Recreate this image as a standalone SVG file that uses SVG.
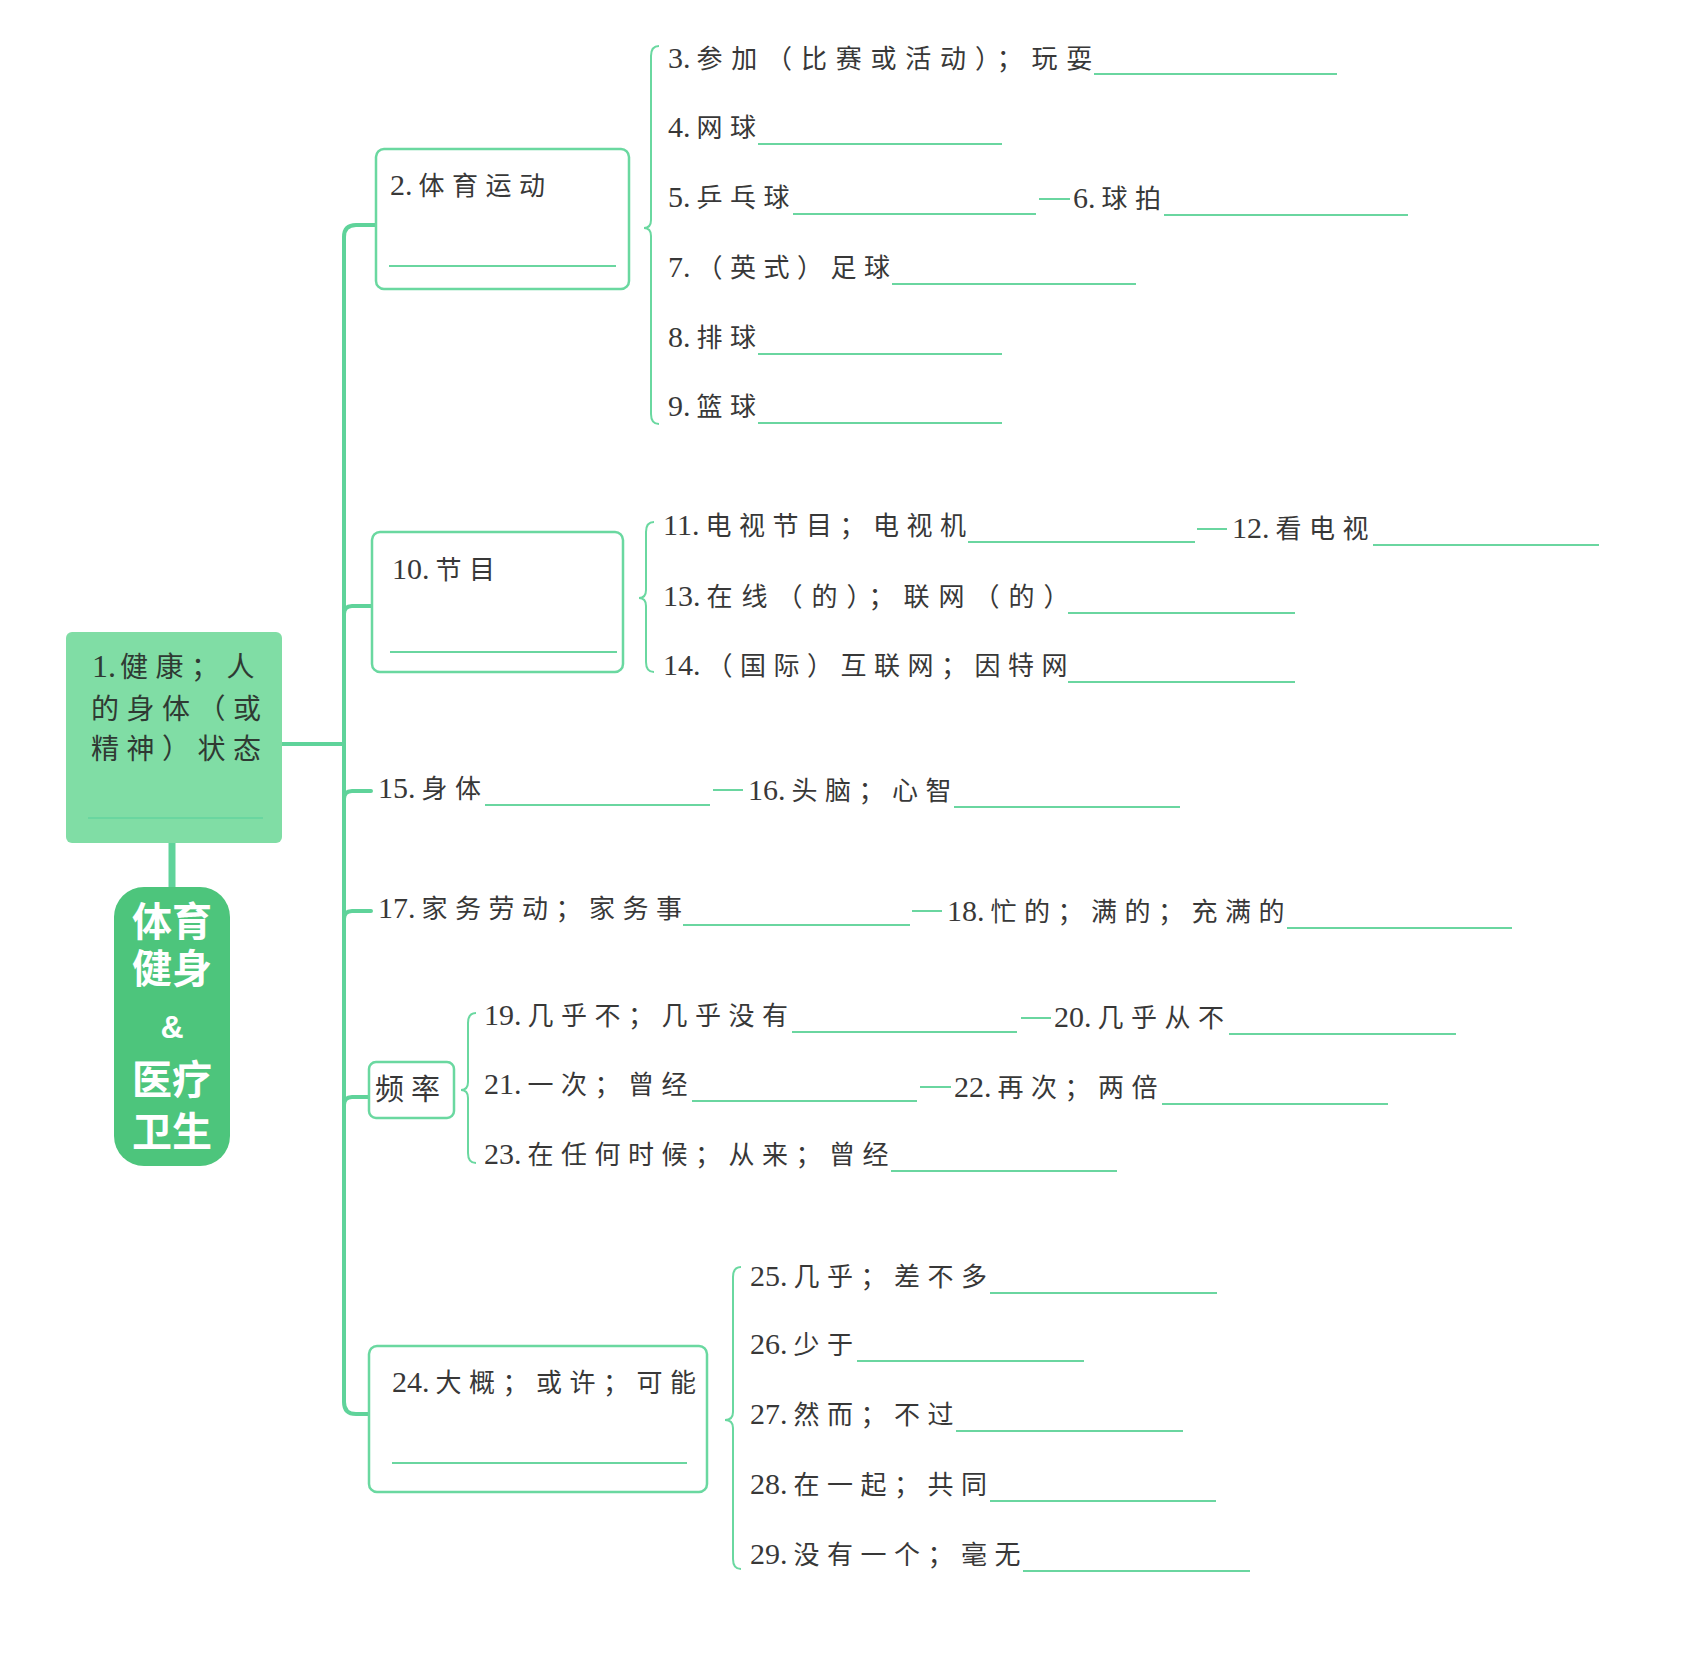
<svg xmlns="http://www.w3.org/2000/svg" width="1706" height="1677" viewBox="0 0 1706 1677">
<style>
.t{font-family:"Liberation Serif","Noto Sans CJK SC",serif;font-size:26px;fill:#383838}
.t .n{font-size:30px}
.t .c{letter-spacing:7.5px}
.t1{font-family:"Liberation Serif","Noto Sans CJK SC",serif;font-size:28px;fill:#2f3a33;letter-spacing:7.5px}
.t1 .n{font-size:32px;letter-spacing:0}
.ttl{font-family:"Liberation Sans","Noto Sans CJK SC",sans-serif;font-weight:bold;font-size:40px;fill:#fff;text-anchor:middle}
.ul{stroke:#6ad6a0;stroke-width:2;fill:none}
.ln{stroke:#5fd39a;stroke-width:4;fill:none;stroke-linecap:round}
.dash{stroke:#6ad6a0;stroke-width:2;fill:none}
.box{fill:#fff;stroke:#6ad8a0;stroke-width:2.5}
.br{fill:none;stroke:#6ad8a0;stroke-width:2}
</style>
<rect width="1706" height="1677" fill="#fff"/>

<g id="connectors">
  <path class="ln" d="M376,225 L356,225 Q344,225 344,237 L344,1402 Q344,1414 356,1414 L369,1414"/>
  <path class="ln" d="M344,614 Q344,606 352,606 L372,606"/>
  <path class="ln" d="M344,799 Q344,791 352,791 L371,791"/>
  <path class="ln" d="M344,919 Q344,911 352,911 L371,911"/>
  <path class="ln" d="M344,1105 Q344,1097 352,1097 L369,1097"/>
  <path class="ln" d="M282,744 L344,744"/>
  <path d="M172,843 L172,887" stroke="#5fd39a" stroke-width="7"/>
  <path class="br" d="M659,46 Q651,46 651,56 L651,220 Q651,228 644,228 Q651,228 651,236 L651,414 Q651,424 659,424"/>
  <path class="br" d="M654,522 Q646,522 646,532 L646,590 Q646,598 639,598 Q646,598 646,606 L646,662 Q646,672 654,672"/>
  <path class="br" d="M476,1013 Q468,1013 468,1023 L468,1082 Q468,1090 461,1090 Q468,1090 468,1098 L468,1153 Q468,1163 476,1163"/>
  <path class="br" d="M741,1267 Q733,1267 733,1277 L733,1412 Q733,1420 725,1420 Q733,1420 733,1428 L733,1559 Q733,1569 741,1569"/>
  <path class="dash" d="M1039,199 L1070,199"/>
  <path class="dash" d="M1197,529 L1227,529"/>
  <path class="dash" d="M713,790 L743,790"/>
  <path class="dash" d="M912,911 L942,911"/>
  <path class="dash" d="M1021,1018 L1051,1018"/>
  <path class="dash" d="M920,1087 L951,1087"/>
</g>

<g id="node1">
  <rect x="66" y="632" width="216" height="211" rx="6" fill="#80dda5"/>
  <text class="t1" x="92" y="677"><tspan class="n">1.</tspan><tspan dx="4">健康；人</tspan></text>
  <text class="t1" x="91" y="719">的身体（或</text>
  <text class="t1" x="91" y="759">精神）状态</text>
  <line class="ul" x1="88" y1="818" x2="263" y2="818" stroke="#5cc68d"/>
</g>

<g id="title">
  <rect x="114" y="887" width="116" height="279" rx="30" fill="#4dc57c"/>
  <text class="ttl" x="172" y="936">体育</text>
  <text class="ttl" x="172" y="983">健身</text>
  <text class="ttl" x="172" y="1038" style="font-size:32px">&amp;</text>
  <text class="ttl" x="172" y="1094">医疗</text>
  <text class="ttl" x="172" y="1146">卫生</text>
</g>

<g id="node2">
  <rect class="box" x="376" y="149" width="253" height="140" rx="8"/>
  <text class="t" x="390" y="195"><tspan class="n">2.</tspan><tspan class="c" dx="6">体育运动</tspan></text>
  <line class="ul" x1="389" y1="266" x2="616" y2="266"/>
</g>
<g id="n3"><text class="t" x="668" y="68"><tspan class="n">3.</tspan><tspan class="c" dx="6" style="letter-spacing:8.8px">参加（比赛或活动）；玩耍</tspan></text><line class="ul" x1="1094" y1="74" x2="1337" y2="74"/></g>
<g id="n4"><text class="t" x="668" y="137"><tspan class="n">4.</tspan><tspan class="c" dx="6">网球</tspan></text><line class="ul" x1="758" y1="144" x2="1002" y2="144"/></g>
<g id="n5"><text class="t" x="668" y="207"><tspan class="n">5.</tspan><tspan class="c" dx="6">乒乓球</tspan></text><line class="ul" x1="793" y1="214" x2="1036" y2="214"/></g>
<g id="n6"><text class="t" x="1073" y="208"><tspan class="n">6.</tspan><tspan class="c" dx="6">球拍</tspan></text><line class="ul" x1="1164" y1="215" x2="1408" y2="215"/></g>
<g id="n7"><text class="t" x="668" y="277"><tspan class="n">7.</tspan><tspan class="c" dx="6">（英式）足球</tspan></text><line class="ul" x1="892" y1="284" x2="1136" y2="284"/></g>
<g id="n8"><text class="t" x="668" y="347"><tspan class="n">8.</tspan><tspan class="c" dx="6">排球</tspan></text><line class="ul" x1="758" y1="354" x2="1002" y2="354"/></g>
<g id="n9"><text class="t" x="668" y="416"><tspan class="n">9.</tspan><tspan class="c" dx="6">篮球</tspan></text><line class="ul" x1="758" y1="423" x2="1002" y2="423"/></g>

<g id="node10">
  <rect class="box" x="372" y="532" width="251" height="140" rx="8"/>
  <text class="t" x="392" y="579"><tspan class="n">10.</tspan><tspan class="c" dx="6">节目</tspan></text>
  <line class="ul" x1="390" y1="652" x2="617" y2="652"/>
</g>
<g id="n11"><text class="t" x="663" y="535"><tspan class="n">11.</tspan><tspan class="c" dx="6">电视节目；电视机</tspan></text><line class="ul" x1="968" y1="542" x2="1195" y2="542"/></g>
<g id="n12"><text class="t" x="1232" y="538"><tspan class="n">12.</tspan><tspan class="c" dx="6">看电视</tspan></text><line class="ul" x1="1373" y1="545" x2="1599" y2="545"/></g>
<g id="n13"><text class="t" x="663" y="606"><tspan class="n">13.</tspan><tspan class="c" dx="6" style="letter-spacing:9px">在线（的）；联网（的）</tspan></text><line class="ul" x1="1068" y1="613" x2="1295" y2="613"/></g>
<g id="n14"><text class="t" x="663" y="675"><tspan class="n">14.</tspan><tspan class="c" dx="6">（国际）互联网；因特网</tspan></text><line class="ul" x1="1068" y1="682" x2="1295" y2="682"/></g>

<g id="n15"><text class="t" x="378" y="798"><tspan class="n">15.</tspan><tspan class="c" dx="6">身体</tspan></text><line class="ul" x1="485" y1="805" x2="710" y2="805"/></g>
<g id="n16"><text class="t" x="748" y="800"><tspan class="n">16.</tspan><tspan class="c" dx="6">头脑；心智</tspan></text><line class="ul" x1="954" y1="807" x2="1180" y2="807"/></g>
<g id="n17"><text class="t" x="378" y="918"><tspan class="n">17.</tspan><tspan class="c" dx="6">家务劳动；家务事</tspan></text><line class="ul" x1="683" y1="925" x2="910" y2="925"/></g>
<g id="n18"><text class="t" x="947" y="921"><tspan class="n">18.</tspan><tspan class="c" dx="6">忙的；满的；充满的</tspan></text><line class="ul" x1="1287" y1="928" x2="1512" y2="928"/></g>

<g id="freq">
  <rect class="box" x="369" y="1062" width="85" height="56" rx="7"/>
  <text x="411" y="1100" style="font-family:'Noto Sans CJK SC',sans-serif;font-size:29px;fill:#383838;text-anchor:middle;letter-spacing:7px">频率</text>
</g>
<g id="n19"><text class="t" x="484" y="1025"><tspan class="n">19.</tspan><tspan class="c" dx="6">几乎不；几乎没有</tspan></text><line class="ul" x1="792" y1="1032" x2="1017" y2="1032"/></g>
<g id="n20"><text class="t" x="1054" y="1027"><tspan class="n">20.</tspan><tspan class="c" dx="6">几乎从不</tspan></text><line class="ul" x1="1229" y1="1034" x2="1456" y2="1034"/></g>
<g id="n21"><text class="t" x="484" y="1094"><tspan class="n">21.</tspan><tspan class="c" dx="6">一次；曾经</tspan></text><line class="ul" x1="692" y1="1101" x2="917" y2="1101"/></g>
<g id="n22"><text class="t" x="954" y="1097"><tspan class="n">22.</tspan><tspan class="c" dx="6">再次；两倍</tspan></text><line class="ul" x1="1162" y1="1104" x2="1388" y2="1104"/></g>
<g id="n23"><text class="t" x="484" y="1164"><tspan class="n">23.</tspan><tspan class="c" dx="6">在任何时候；从来；曾经</tspan></text><line class="ul" x1="891" y1="1171" x2="1117" y2="1171"/></g>

<g id="node24">
  <rect class="box" x="369" y="1346" width="338" height="146" rx="8"/>
  <text class="t" x="392" y="1392"><tspan class="n">24.</tspan><tspan class="c" dx="6">大概；或许；可能</tspan></text>
  <line class="ul" x1="392" y1="1463" x2="687" y2="1463"/>
</g>
<g id="n25"><text class="t" x="750" y="1286"><tspan class="n">25.</tspan><tspan class="c" dx="6">几乎；差不多</tspan></text><line class="ul" x1="990" y1="1293" x2="1217" y2="1293"/></g>
<g id="n26"><text class="t" x="750" y="1354"><tspan class="n">26.</tspan><tspan class="c" dx="6">少于</tspan></text><line class="ul" x1="857" y1="1361" x2="1084" y2="1361"/></g>
<g id="n27"><text class="t" x="750" y="1424"><tspan class="n">27.</tspan><tspan class="c" dx="6">然而；不过</tspan></text><line class="ul" x1="956" y1="1431" x2="1183" y2="1431"/></g>
<g id="n28"><text class="t" x="750" y="1494"><tspan class="n">28.</tspan><tspan class="c" dx="6">在一起；共同</tspan></text><line class="ul" x1="990" y1="1501" x2="1216" y2="1501"/></g>
<g id="n29"><text class="t" x="750" y="1564"><tspan class="n">29.</tspan><tspan class="c" dx="6">没有一个；毫无</tspan></text><line class="ul" x1="1023" y1="1571" x2="1250" y2="1571"/></g>
</svg>
